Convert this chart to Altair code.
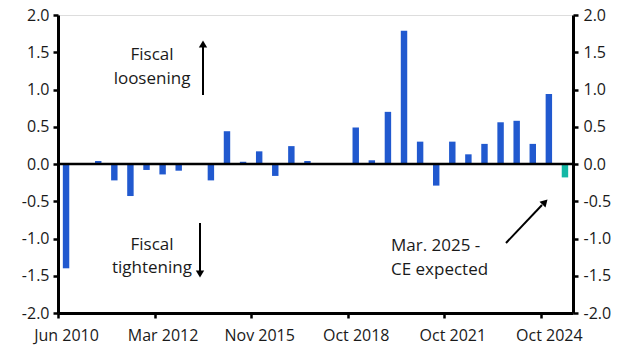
import altair as alt
import pandas as pd

# Fiscal event index (categorical slots) and estimated impact
event_index = list(range(32))
values = [-1.40, 0.0, 0.04, -0.22, -0.43, -0.08, -0.14, -0.09, 0.0, -0.22,
          0.44, 0.03, 0.17, -0.16, 0.24, 0.04, 0.0, 0.0, 0.49, 0.05,
          0.70, 1.79, 0.30, -0.29, 0.30, 0.13, 0.27, 0.56, 0.58, 0.27,
          0.94, -0.18]
series = ["Actual"] * 31 + ["CE expected"]

tick_positions = [0, 6, 12, 18, 24, 30]
tick_labels = ["Jun 2010", "Mar 2012", "Nov 2015", "Oct 2018", "Oct 2021", "Oct 2024"]

df = pd.DataFrame({"idx": event_index, "value": values, "series": series})

label_expr = "''"
for p, l in reversed(list(zip(tick_positions, tick_labels))):
    label_expr = f"datum.value == {p} ? '{l}' : ({label_expr})"

FONT = "Open Sans"
W, H = 515, 298
L, T = 58, 15
step = W / 32.0

yscale = alt.Scale(domain=[-2, 2], nice=False, zero=False)
xscale = alt.Scale(paddingInner=0.6, paddingOuter=0.3)
ylab = "(datum.value < 0 ? '-' : '') + format(abs(datum.value), '.1f')"
yvals = [-2, -1.5, -1, -0.5, 0, 0.5, 1, 1.5, 2]

bars = alt.Chart(df).mark_bar().encode(
    x=alt.X("idx:O", scale=xscale, title=None,
            axis=alt.Axis(values=tick_positions, labelExpr=label_expr, labelAngle=0,
                          tickOffset=-step / 2, labelOffset=step / 2, labelPadding=9)),
    y=alt.Y("value:Q", scale=yscale, title=None,
            axis=alt.Axis(values=yvals, labelExpr=ylab, labelPadding=4)),
    color=alt.Color("series:N", scale=alt.Scale(domain=["Actual", "CE expected"],
                                                range=["#2159CF", "#14B8A6"]), legend=None),
)

right_axis = alt.Chart(df).mark_bar(opacity=0).encode(
    x=alt.X("idx:O", scale=xscale, axis=None),
    y=alt.Y("value:Q", scale=yscale, title=None,
            axis=alt.Axis(orient="right", values=yvals, labelExpr=ylab, labelPadding=5)),
)

zero = alt.Chart(pd.DataFrame({"z": [0]})).mark_rule(color="black", strokeWidth=2.5).encode(
    y=alt.Y("z:Q", scale=yscale, axis=None)
)

# Annotation positions (pixels inside plot area)
texts = pd.DataFrame({
    "t": ["Fiscal", "loosening", "Fiscal", "tightening"],
    "x": [152 - L] * 4,
    "y": [55 - T, 79 - T, 245 - T, 268 - T],
})
texts2 = pd.DataFrame({"t": ["Mar. 2025  -", "CE expected"],
                       "x": [391 - L, 391 - L], "y": [246 - T, 270 - T]})

lines = pd.DataFrame({"x": [203 - L, 200 - L, 506 - L], "y": [95 - T, 223 - T, 243 - T],
                      "x2": [203 - L, 200 - L, 542 - L], "y2": [46 - T, 272 - T, 205 - T]})
heads = pd.DataFrame({"x": [203 - L, 200 - L, 545 - L], "y": [44 - T, 274 - T, 202 - T],
                      "a": [0, 180, 44]})

px = dict(scale=None, axis=None)

ann = alt.Chart(texts).mark_text(font=FONT, fontSize=17, color="#1a1a1a",
                                 align="center", baseline="middle").encode(
    x=alt.X("x:Q", **px), y=alt.Y("y:Q", **px), text="t:N")
ann2 = alt.Chart(texts2).mark_text(font=FONT, fontSize=17, color="#1a1a1a",
                                   align="left", baseline="middle").encode(
    x=alt.X("x:Q", **px), y=alt.Y("y:Q", **px), text="t:N")
arrow_lines = alt.Chart(lines).mark_rule(color="black", strokeWidth=2).encode(
    x=alt.X("x:Q", **px), y=alt.Y("y:Q", **px), x2="x2:Q", y2="y2:Q")
arrow_heads = alt.Chart(heads).mark_point(shape="triangle-up", filled=True, color="black",
                                          size=70, opacity=1).encode(
    x=alt.X("x:Q", **px), y=alt.Y("y:Q", **px), angle=alt.Angle("a:Q", scale=None))

chart = alt.layer(bars, right_axis, zero, arrow_lines, arrow_heads, ann, ann2).resolve_scale(
    x="independent", y="independent"
).properties(
    width=W, height=H, autosize=alt.AutoSizeParams(type="none"),
    padding={"left": L, "top": T, "right": 630 - L - W, "bottom": 356 - T - H},
).configure_view(stroke=None).configure(background="white").configure_axis(
    domainColor="black", domainWidth=3, tickColor="black", tickWidth=2.5, tickSize=5,
    labelFont=FONT, labelFontSize=16, labelColor="#1a1a1a", grid=False,
)

chart.save("out.html", embed_options={"renderer": "svg", "actions": False})
